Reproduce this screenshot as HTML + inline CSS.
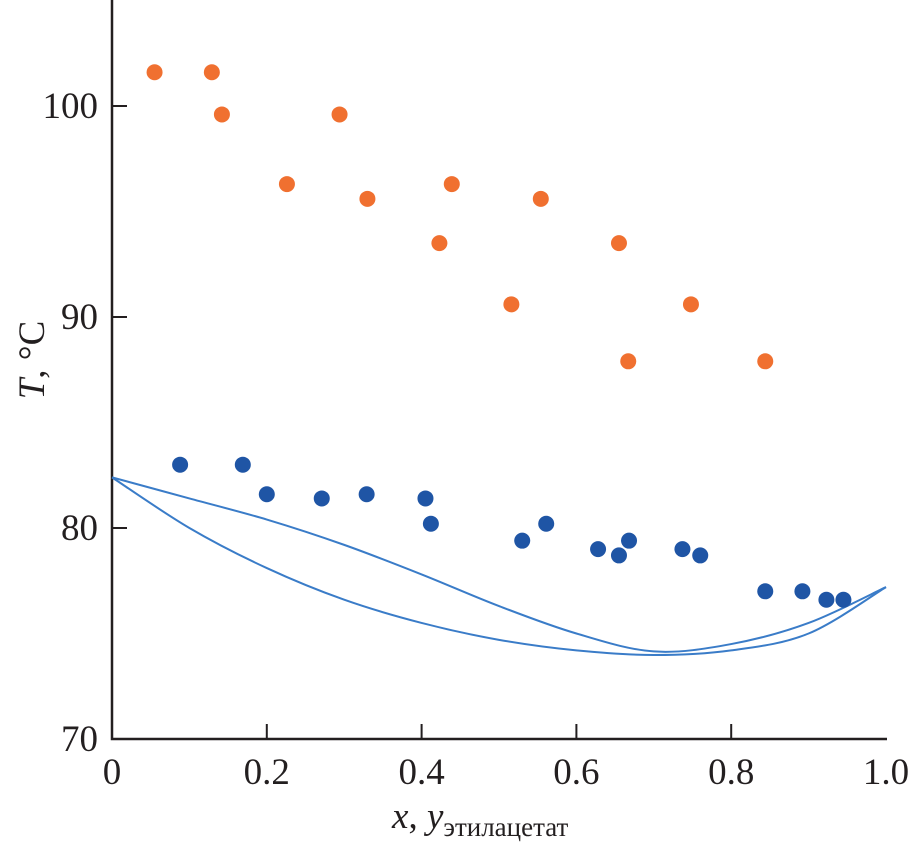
<!DOCTYPE html>
<html><head><meta charset="utf-8"><style>
body{margin:0;background:#fff}
svg{display:block}
text{font-family:"Liberation Serif",serif;fill:#231f20}
</style></head><body>
<svg id="chart" width="911" height="844">
<g id="axes"></g><g id="curves"></g><g id="points"></g>
</svg>
<script>
const xTicks=[0,0.2,0.4,0.6,0.8,1.0];
const xTickLabels=["0","0.2","0.4","0.6","0.8","1.0"];
const yTicks=[70,80,90,100];
const yTickLabels=["70","80","90","100"];
const orangeX=[0.055,0.129,0.142,0.226,0.294,0.330,0.423,0.439,0.516,0.554,0.655,0.667,0.748,0.844];
const orangeY=[101.6,101.6,99.6,96.3,99.6,95.6,93.5,96.3,90.6,95.6,93.5,87.9,90.6,87.9];
const blueX=[0.088,0.169,0.200,0.271,0.329,0.405,0.412,0.530,0.561,0.628,0.655,0.668,0.737,0.760,0.844,0.892,0.923,0.945];
const blueY=[83.0,83.0,81.6,81.4,81.6,81.4,80.2,79.4,80.2,79.0,78.7,79.4,79.0,78.7,77.0,77.0,76.6,76.6];
const curveX=[0,0.1,0.2,0.3,0.4,0.5,0.6,0.7,0.8,0.9,1.0];
const liquidT=[82.4,80.0,78.1,76.6,75.5,74.7,74.2,73.98,74.2,75.0,77.2];
const vapourT=[82.4,81.4,80.4,79.2,77.8,76.3,75.0,74.15,74.5,75.5,77.2];

const NS="http://www.w3.org/2000/svg";
const X=v=>112+v*774, Y=v=>739-(v-70)*21.1;
function mk(tag,attrs,parent,txt){const e=document.createElementNS(NS,tag);for(const k in attrs)e.setAttribute(k,attrs[k]);if(txt!==undefined)e.textContent=txt;parent.appendChild(e);return e;}
const ax=document.getElementById('axes');
let e=mk('path',{d:`M112 0 V739 H887`,fill:'none',stroke:'#231f20','stroke-width':2.5},ax);


xTicks.forEach((t,i)=>{
 if(i>0&&i<xTicks.length-1){let l=mk('line',{x1:X(t),x2:X(t),y1:739,y2:724,stroke:'#231f20','stroke-width':2},ax);
 
 }
 let tx=mk('text',{x:X(t),y:784,'font-size':37,'text-anchor':'middle'},ax,xTickLabels[i]);
 
 
});
yTicks.forEach((t,i)=>{
 if(i>0){let l=mk('line',{x1:112,x2:127,y1:Y(t),y2:Y(t),stroke:'#231f20','stroke-width':2},ax);
 
 }
 let tx=mk('text',{x:98,y:Y(t)+12,'font-size':37,'text-anchor':'end'},ax,yTickLabels[i]);
 
 
});
let yt=mk('text',{transform:'translate(44,360) rotate(-90)','font-size':37,'text-anchor':'middle'},ax);
yt.innerHTML='<tspan font-style="italic">T</tspan>, °C';


let xt=mk('text',{x:392,y:828,'font-size':37},ax);
xt.innerHTML='<tspan font-style="italic">x</tspan>, <tspan font-style="italic">y</tspan><tspan font-size="27" dy="8">этилацетат</tspan>';



function smooth(xs,ys){const p=xs.map((x,i)=>[X(x),Y(ys[i])]);let d=`M${p[0][0]} ${p[0][1]}`;
 for(let i=0;i<p.length-1;i++){const p0=p[i-1]||p[i],p1=p[i],p2=p[i+1],p3=p[i+2]||p2;
 d+=` C${p1[0]+(p2[0]-p0[0])/6} ${p1[1]+(p2[1]-p0[1])/6} ${p2[0]-(p3[0]-p1[0])/6} ${p2[1]-(p3[1]-p1[1])/6} ${p2[0]} ${p2[1]}`;}return d;}
const cg=document.getElementById('curves');
let c1=mk('path',{d:smooth(curveX,liquidT),fill:'none',stroke:'#3a7cc8','stroke-width':2},cg);


let c2=mk('path',{d:smooth(curveX,vapourT),fill:'none',stroke:'#3a7cc8','stroke-width':2},cg);


const pg=document.getElementById('points');
orangeX.forEach((x,i)=>{let c=mk('circle',{cx:X(x),cy:Y(orangeY[i]),r:8,fill:'#f07030'},pg);
 
 });
blueX.forEach((x,i)=>{let c=mk('circle',{cx:X(x),cy:Y(blueY[i]),r:8,fill:'#1f55a5'},pg);
 
 });
</script>
</body></html>
